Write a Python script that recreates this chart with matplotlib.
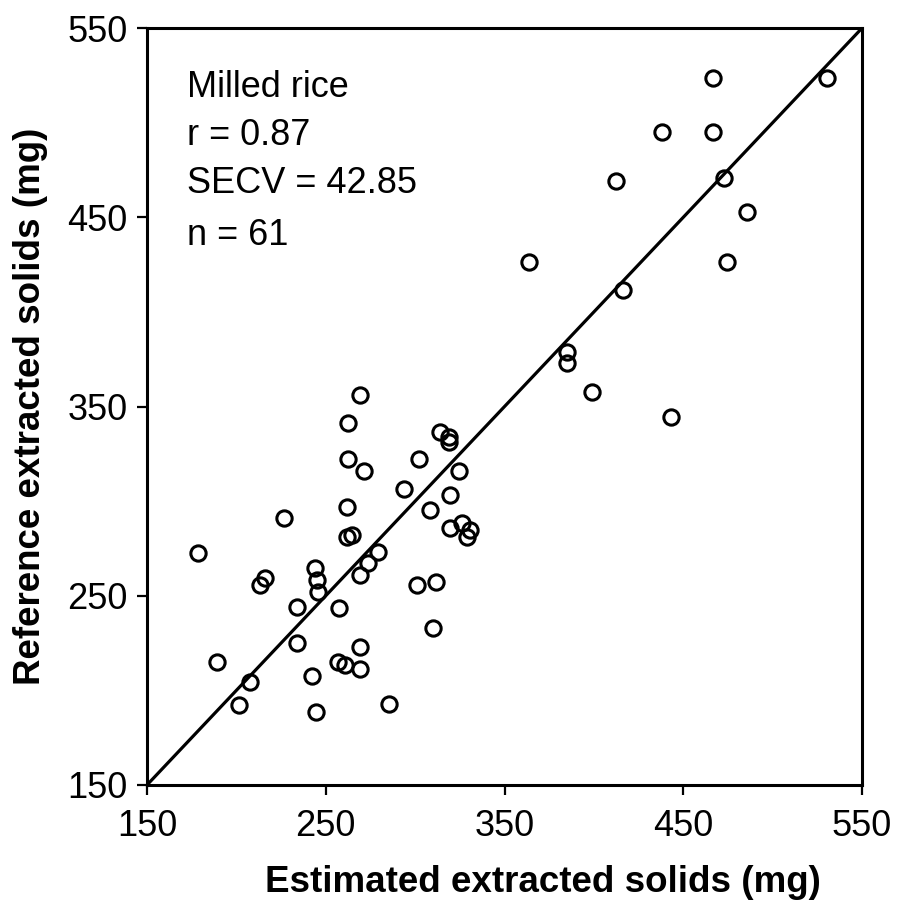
import matplotlib
matplotlib.use('Agg')
import matplotlib.pyplot as plt

# Milled rice - estimated vs reference extracted solids (mg)

estimated = [466.8, 530.6, 437.9, 466.8, 412.2, 473.0, 485.5, 363.9, 474.3, 416.5,
             384.8, 384.8, 398.8, 443.1,
             269.2, 262.3, 262.6, 271.4, 313.9, 319.0, 319.0, 302.2, 324.7,
             178.7, 226.8, 262.1, 293.8, 319.5, 308.3, 261.7, 264.5, 319.5, 326.1,
             330.7, 328.9, 279.4, 273.8, 269.2, 244.0, 244.9, 245.8, 216.0, 213.2,
             234.1, 257.4, 300.9, 311.7, 310.2, 269.2, 257.0, 260.8, 269.2, 189.0,
             234.1, 207.6, 201.5, 242.5, 244.5, 285.6]
reference = [523.4, 523.4, 495.2, 495.2, 469.3, 470.6, 452.9, 426.5, 426.5, 411.6,
             379.0, 372.8, 357.8, 344.6,
             356.1, 341.1, 322.1, 316.1, 336.5, 333.9, 331.2, 322.1, 316.1,
             272.4, 290.9, 297.1, 306.4, 303.2, 295.3, 281.2, 282.1, 285.6, 288.3,
             284.7, 281.2, 273.1, 267.1, 260.7, 264.5, 258.3, 252.1, 259.2, 255.7,
             244.2, 243.5, 255.7, 257.3, 232.8, 223.1, 215.2, 213.4, 211.3, 215.2,
             224.9, 204.6, 192.3, 207.6, 188.4, 192.6]

ticks = [150, 250, 350, 450, 550]
info_lines = ['Milled rice', 'r = 0.87', 'SECV = 42.85', 'n = 61']
info_y = [513.7, 488.2, 462.8, 435.3]

plt.rcParams['font.family'] = ['Liberation Sans', 'DejaVu Sans']

fig = plt.figure(figsize=(8.97, 9.06), dpi=100)
ax = fig.add_axes([0.1639, 0.1336, 0.7971, 0.8354])

# 1:1 line
ax.plot([150, 550], [150, 550], color='black', lw=2.3, zorder=2)

ax.plot(estimated, reference, 'o', mfc='none', mec='black', ms=11, mew=2.2, zorder=3)

for txt, yy in zip(info_lines, info_y):
    ax.text(172.4, yy, txt, fontsize=26, va='baseline', ha='left')

ax.set_xlim(150, 550)
ax.set_ylim(150, 550)
ax.set_xticks(ticks)
ax.set_yticks(ticks)
ax.tick_params(direction='out', length=7, width=1.6, labelsize=26)
ax.tick_params(axis='x', pad=10)
ax.tick_params(axis='y', pad=7)
for sp in ax.spines.values():
    sp.set_linewidth(2.2)

ax.set_xlabel('Estimated extracted solids (mg)', fontsize=26.5, fontweight='bold')
ax.xaxis.set_label_coords(0.554, -0.106)
ax.set_ylabel('Reference extracted solids (mg)', fontsize=26.5, fontweight='bold', labelpad=14)

fig.savefig('out.png', dpi=100)
